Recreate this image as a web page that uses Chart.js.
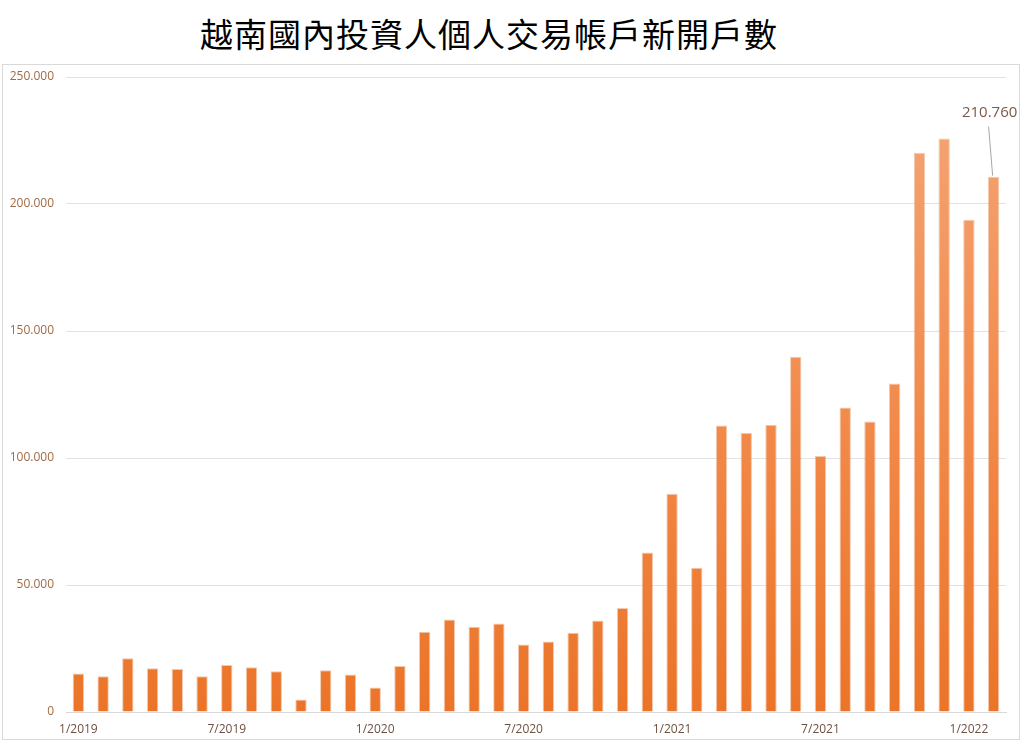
<!DOCTYPE html>
<html>
<head>
<meta charset="utf-8">
<script src="https://cdn.jsdelivr.net/npm/chart.js@4/dist/chart.umd.min.js"></script>
<style>
  html, body { margin: 0; padding: 0; background: #ffffff; }
  body { width: 1024px; height: 744px; position: relative; overflow: hidden; }
  #title {
    position: absolute; left: 0; top: 8px; width: 978px; text-align: center;
    font-family: "Noto Sans CJK TC", "Noto Sans CJK SC", sans-serif;
    font-size: 33px; font-weight: 400; letter-spacing: 1px; color: #000;
    line-height: 50px;
  }
  #frame {
    position: absolute; left: 2px; top: 64px; width: 1018px; height: 676px;
    border: 1px solid #d9d9d9; box-sizing: border-box;
  }
  #wrap { position: absolute; left: 0; top: 0; width: 1016px; height: 674px; }
</style>
</head>
<body>
<div id="title">越南國內投資人個人交易帳戶新開戶數</div>
<div id="frame"><div id="wrap"><canvas id="c"></canvas></div></div>
<script>
// Monthly categories 1/2019 .. 2/2022
const months = [
  "1/2019","2/2019","3/2019","4/2019","5/2019","6/2019","7/2019","8/2019","9/2019","10/2019","11/2019","12/2019",
  "1/2020","2/2020","3/2020","4/2020","5/2020","6/2020","7/2020","8/2020","9/2020","10/2020","11/2020","12/2020",
  "1/2021","2/2021","3/2021","4/2021","5/2021","6/2021","7/2021","8/2021","9/2021","10/2021","11/2021","12/2021",
  "1/2022","2/2022"
];
// New individual domestic trading accounts opened per month
const newAccounts = [
  15200, 14100, 21200, 17200, 16900, 14100, 18500, 17600, 16000, 4900, 16400, 14800,
  9600, 18100, 31600, 36400, 33600, 34800, 26600, 27800, 31200, 36000, 40900, 62800,
  85900, 56800, 112800, 109800, 113100, 139900, 100800, 119900, 114400, 129300, 220200, 225800,
  193800, 210760
];
const shownTickMonths = ["1", "7"];
const annotatedIndex = 37;
const annotatedText = "210.760";
const yTickMax = 250000;
const yTickStep = 50000;

function fmt(v) {
  return String(v).replace(/\B(?=(\d{3})+(?!\d))/g, ".");
}

const annotationPlugin = {
  id: 'lastLabel',
  afterDatasetsDraw(chart) {
    const ctx = chart.ctx;
    const xs = chart.scales.x, ys = chart.scales.y;
    const bx = xs.getPixelForValue(annotatedIndex);
    const by = ys.getPixelForValue(newAccounts[annotatedIndex]);
    const lx = bx - 4, ly = by - 64;
    ctx.save();
    ctx.strokeStyle = '#a6a6a6';
    ctx.lineWidth = 1;
    ctx.beginPath();
    ctx.moveTo(lx - 1, ly + 14);
    ctx.lineTo(bx - 1, by - 1);
    ctx.stroke();
    ctx.fillStyle = '#7a5a48';
    ctx.font = '15px "Open Sans", "Noto Sans", sans-serif';
    ctx.textAlign = 'center';
    ctx.textBaseline = 'bottom';
    ctx.fillText(annotatedText, lx, ly + 8);
    ctx.restore();
  }
};

new Chart(document.getElementById('c'), {
  type: 'bar',
  data: {
    labels: months,
    datasets: [{
      data: newAccounts,
      backgroundColor(context) {
        const chart = context.chart;
        const area = chart.chartArea;
        if (!area) return '#ED7D31';
        const g = chart.ctx.createLinearGradient(0, area.top, 0, area.bottom);
        g.addColorStop(0, '#F5A677');
        g.addColorStop(0.6, '#F18746');
        g.addColorStop(1, '#EB7428');
        return g;
      },
      borderColor: 'rgba(214,100,30,0.35)',
      borderWidth: 1,
      barPercentage: 0.46,
      categoryPercentage: 1.0
    }]
  },
  options: {
    responsive: true,
    maintainAspectRatio: false,
    animation: false,
    layout: { padding: { left: 0, right: 13, top: 0, bottom: 0 } },
    plugins: { legend: { display: false }, tooltip: { enabled: false } },
    scales: {
      x: {
        grid: { display: false, drawTicks: false },
        border: { display: true, color: '#d9d9d9' },
        ticks: {
          autoSkip: false, maxRotation: 0, minRotation: 0, padding: 10,
          color: '#6e5040',
          font: { family: '"Open Sans", "Noto Sans", sans-serif', size: 12 },
          callback(v, i) {
            const lab = months[i];
            return shownTickMonths.includes(lab.split('/')[0]) ? lab : '';
          }
        },
        afterFit(scale) { scale.height = 27; }
      },
      y: {
        min: 0, max: yTickMax,
        grid: { color: '#e3e3e3', drawTicks: false },
        border: { display: false },
        ticks: {
          stepSize: yTickStep, padding: 12,
          color: '#a06a45',
          font: { family: '"Open Sans", "Noto Sans", sans-serif', size: 12 },
          callback(v) { return fmt(v); }
        },
        afterFit(scale) { scale.width = 63; scale.paddingTop = 12; scale.paddingBottom = 0; }
      }
    }
  },
  plugins: [annotationPlugin]
});
</script>
</body>
</html>
